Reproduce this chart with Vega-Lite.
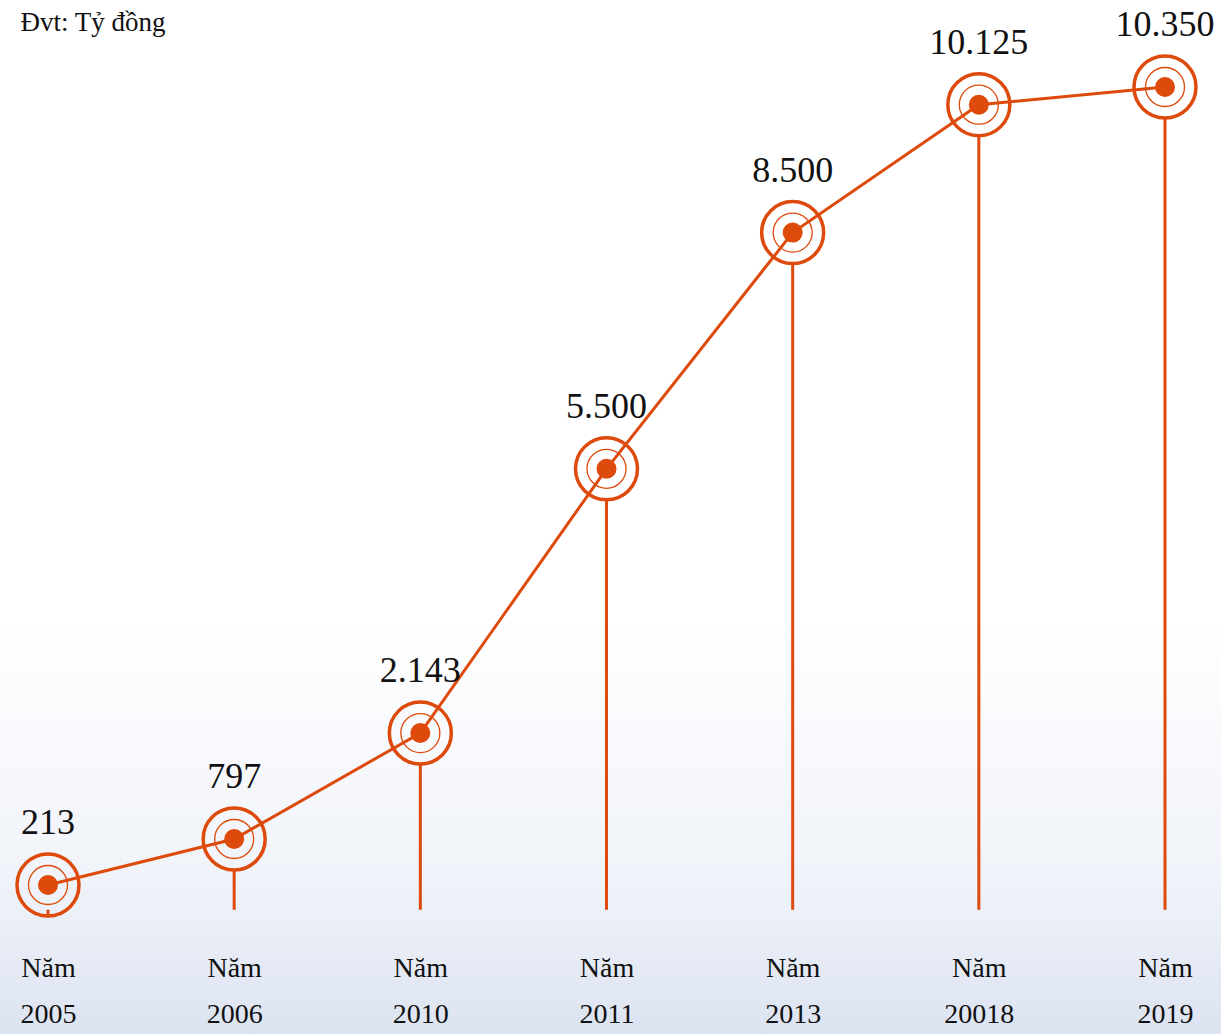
{
  "$schema": "https://vega.github.io/schema/vega-lite/v6.json",
  "width": 1221,
  "height": 1034,
  "autosize": {"type": "none"},
  "padding": 0,
  "background": "#ffffff",
  "config": {
    "view": {"stroke": null},
    "axis": {"grid": false}
  },
  "data": {
    "values": [
      {"year": "2005", "value": 213, "label": "213"},
      {"year": "2006", "value": 797, "label": "797"},
      {"year": "2010", "value": 2143, "label": "2.143"},
      {"year": "2011", "value": 5500, "label": "5.500"},
      {"year": "2013", "value": 8500, "label": "8.500"},
      {"year": "20018", "value": 10125, "label": "10.125"},
      {"year": "2019", "value": 10350, "label": "10.350"}
    ]
  },
  "encoding": {
    "x": {
      "field": "year",
      "type": "ordinal",
      "sort": null,
      "scale": {"type": "point", "range": [48, 1165], "padding": 0},
      "axis": {
        "title": null,
        "orient": "bottom",
        "zindex": 1,
        "domain": false,
        "ticks": false,
        "tickSize": 0,
        "offset": -66,
        "labelAngle": 0,
        "labelExpr": "['Năm', datum.label]",
        "labelFont": "Liberation Serif",
        "labelFontSize": 28,
        "labelColor": "#111111",
        "labelLineHeight": 46,
        "labelBaseline": "middle",
        "labelPadding": 0,
        "labelOverlap": false
      }
    },
    "y": {
      "field": "value",
      "type": "quantitative",
      "scale": {"domain": [-1680, 11455], "nice": false, "zero": false},
      "axis": {
        "orient": "left",
        "zindex": 1,
        "domain": false,
        "ticks": false,
        "labels": false,
        "title": "Đvt: Tỷ đồng",
        "titleAngle": 0,
        "titleX": 20,
        "titleY": 30,
        "titleAlign": "left",
        "titleBaseline": "alphabetic",
        "titleFont": "Liberation Serif",
        "titleFontSize": 27,
        "titleFontWeight": "normal",
        "titleColor": "#111111"
      }
    }
  },
  "layer": [
    {
      "data": {"values": [{"bg": 1}]},
      "mark": {
        "type": "rect",
        "color": {
          "gradient": "linear",
          "x1": 0, "y1": 0, "x2": 0, "y2": 1,
          "stops": [
            {"offset": 0, "color": "#ffffff"},
            {"offset": 0.6, "color": "#ffffff"},
            {"offset": 0.85, "color": "#f0f3f9"},
            {"offset": 1, "color": "#dce3f1"}
          ]
        }
      },
      "encoding": {"x": null, "y": null}
    },
    {
      "mark": {"type": "rule", "color": "#dd4a0b", "strokeWidth": 3, "yOffset": 31, "y2Offset": 8},
      "encoding": {"y2": {"datum": 0}}
    },
    {
      "mark": {"type": "line", "color": "#dd4a0b", "strokeWidth": 3}
    },
    {
      "mark": {"type": "point", "shape": "circle", "filled": false, "size": 3844, "strokeWidth": 3.5, "color": "#dd4a0b", "opacity": 1}
    },
    {
      "mark": {"type": "point", "shape": "circle", "filled": false, "size": 1521, "strokeWidth": 1.3, "color": "#dd4a0b", "opacity": 1}
    },
    {
      "mark": {"type": "point", "shape": "circle", "filled": true, "size": 400, "color": "#dd4a0b", "opacity": 1}
    },
    {
      "mark": {"type": "text", "dy": -62, "baseline": "middle", "align": "center", "font": "Liberation Serif", "fontSize": 36, "color": "#111111"},
      "encoding": {"text": {"field": "label"}}
    }
  ]
}
